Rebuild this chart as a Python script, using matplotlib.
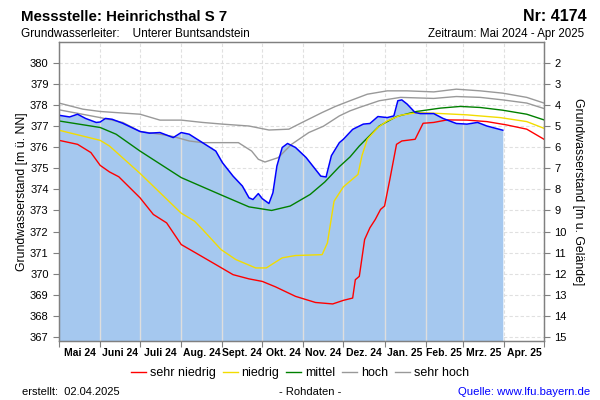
import numpy as np
import matplotlib
matplotlib.use("Agg")
import matplotlib.pyplot as plt
import matplotlib.dates as mdates
from matplotlib.lines import Line2D
from matplotlib.ticker import FixedLocator, FixedFormatter

plt.rcParams['font.family'] = ['Liberation Sans', 'DejaVu Sans']

# ---------------- data ----------------
month_labels = ["Mai 24", "Juni 24", "Juli 24", "Aug. 24", "Sept. 24", "Okt. 24",
                "Nov. 24", "Dez. 24", "Jan. 25", "Feb. 25", "Mrz. 25", "Apr. 25"]
left_ticks = list(range(367, 381))
right_ticks = list(range(2, 16))
ground_level = 382.0

meas_dates = ["2024-05-01", "2024-05-09", "2024-05-15", "2024-05-21", "2024-05-29", "2024-06-01",
              "2024-06-05", "2024-06-10", "2024-06-18", "2024-07-01", "2024-07-08", "2024-07-16",
              "2024-07-26", "2024-08-01", "2024-08-07", "2024-08-17", "2024-08-27", "2024-09-01",
              "2024-09-09", "2024-09-16", "2024-09-21", "2024-09-24", "2024-09-28", "2024-10-01",
              "2024-10-06", "2024-10-09", "2024-10-12", "2024-10-16", "2024-10-20", "2024-10-26",
              "2024-11-03", "2024-11-10", "2024-11-14", "2024-11-18", "2024-11-22", "2024-11-28",
              "2024-12-01", "2024-12-08", "2024-12-16", "2024-12-21", "2024-12-27", "2025-01-03",
              "2025-01-08", "2025-01-11", "2025-01-14", "2025-01-18", "2025-01-24", "2025-01-28",
              "2025-02-07", "2025-02-14", "2025-02-24", "2025-03-04", "2025-03-12", "2025-03-19",
              "2025-03-31"]
meas_values = [377.52, 377.44, 377.57, 377.37, 377.18, 377.20,
               377.37, 377.33, 377.14, 376.75, 376.67, 376.70,
               376.46, 376.70, 376.62, 376.22, 375.82, 375.27,
               374.63, 374.16, 373.60, 373.52, 373.80, 373.56,
               373.33, 373.84, 375.11, 375.99, 376.18, 375.99,
               375.51, 374.95, 374.63, 374.59, 375.60, 376.22,
               376.38, 376.85, 377.10, 377.13, 377.46, 377.41,
               377.49, 378.21, 378.25, 378.05, 377.65, 377.60,
               377.60, 377.37, 377.13, 377.10, 377.18, 377.01,
               376.81]

sn_dates = ["2024-05-01", "2024-05-15", "2024-05-25", "2024-06-01", "2024-06-08", "2024-06-15",
            "2024-07-01", "2024-07-11", "2024-07-21", "2024-08-01", "2024-08-12", "2024-08-27",
            "2024-09-09", "2024-09-21", "2024-10-01", "2024-10-11", "2024-10-26", "2024-11-10",
            "2024-11-23", "2024-12-01", "2024-12-08", "2024-12-10", "2024-12-13", "2024-12-17",
            "2024-12-21", "2024-12-25", "2024-12-29", "2025-01-01", "2025-01-05", "2025-01-10",
            "2025-01-14", "2025-01-24", "2025-01-30", "2025-02-07", "2025-02-17", "2025-03-04",
            "2025-03-19", "2025-04-03", "2025-04-18", "2025-05-01"]
sn_values = [376.33, 376.14, 375.75, 375.14, 374.83, 374.60,
             373.60, 372.81, 372.41, 371.38, 370.98, 370.43,
             369.95, 369.75, 369.63, 369.37, 368.92, 368.63,
             368.56, 368.73, 368.84, 369.71, 369.87, 371.62,
             372.18, 372.57, 373.05, 373.21, 374.48, 376.14,
             376.30, 376.38, 377.14, 377.18, 377.30, 377.29,
             377.22, 377.06, 376.86, 376.38]

n_dates = ["2024-05-01", "2024-06-01", "2024-06-08", "2024-07-01", "2024-08-01", "2024-08-11",
           "2024-08-17", "2024-08-31", "2024-09-11", "2024-09-26", "2024-10-04", "2024-10-16",
           "2024-10-26", "2024-11-15", "2024-11-19", "2024-11-24", "2024-12-01", "2024-12-12",
           "2024-12-15", "2024-12-19", "2024-12-27", "2025-01-03", "2025-01-13", "2025-01-26",
           "2025-02-13", "2025-03-04", "2025-03-29", "2025-04-18", "2025-05-01"]
n_values = [376.81, 376.33, 376.06, 374.76, 372.87, 372.49,
            372.10, 371.14, 370.67, 370.27, 370.27, 370.75,
            370.86, 370.90, 371.46, 373.44, 374.12, 374.71,
            375.60, 376.38, 376.94, 377.25, 377.52, 377.65,
            377.60, 377.54, 377.41, 377.22, 376.90]

m_dates = ["2024-05-01", "2024-06-01", "2024-06-13", "2024-07-01", "2024-08-01", "2024-09-01",
           "2024-09-21", "2024-10-08", "2024-10-22", "2024-11-06", "2024-11-17", "2024-11-28",
           "2024-12-06", "2024-12-13", "2024-12-28", "2025-01-10", "2025-01-25", "2025-02-12",
           "2025-02-27", "2025-03-14", "2025-03-31", "2025-04-18", "2025-05-01"]
m_values = [377.25, 376.94, 376.62, 375.82, 374.56, 373.71,
            373.17, 373.00, 373.21, 373.76, 374.35, 375.08,
            375.54, 376.06, 377.01, 377.46, 377.70, 377.86,
            377.94, 377.89, 377.76, 377.57, 377.30]

h_dates = ["2024-05-01", "2024-06-01", "2024-06-18", "2024-07-01", "2024-07-16", "2024-07-26",
           "2024-08-07", "2024-08-17", "2024-09-13", "2024-09-23", "2024-09-28", "2024-10-03",
           "2024-10-13", "2024-10-23", "2024-11-05", "2024-11-16", "2024-11-28", "2024-12-06",
           "2024-12-13", "2024-12-28", "2025-01-13", "2025-02-07", "2025-02-24", "2025-03-14",
           "2025-03-31", "2025-04-18", "2025-05-01"]
h_values = [377.78, 377.41, 377.18, 376.75, 376.62, 376.51,
            376.30, 376.22, 376.22, 375.82, 375.43, 375.30,
            375.51, 376.14, 376.70, 377.00, 377.49, 377.73,
            377.89, 378.21, 378.37, 378.32, 378.41, 378.37,
            378.25, 378.10, 377.84]

sh_dates = ["2024-05-01", "2024-05-19", "2024-06-01", "2024-07-01", "2024-07-16", "2024-08-01",
            "2024-08-17", "2024-09-01", "2024-09-21", "2024-10-06", "2024-10-21", "2024-10-31",
            "2024-11-15", "2024-11-25", "2024-12-06", "2024-12-19", "2025-01-03", "2025-01-18",
            "2025-02-07", "2025-02-24", "2025-03-14", "2025-03-31", "2025-04-18", "2025-05-01"]
sh_values = [378.10, 377.81, 377.70, 377.57, 377.29, 377.29,
             377.18, 377.10, 377.01, 376.82, 376.86, 377.18,
             377.65, 377.94, 378.21, 378.52, 378.68, 378.68,
             378.63, 378.76, 378.68, 378.57, 378.37, 378.10]

# ---------------- figure ----------------
def d(lst):
    return np.array(lst, dtype="datetime64[D]")

fig = plt.figure(figsize=(6, 4), dpi=100)
ax = fig.add_axes([0.0983, 0.1475, 0.8084, 0.7475])

x0 = np.datetime64("2024-05-01")
x1 = np.datetime64("2025-05-01")
ymin, ymax = 366.8, 381.0
ax.set_xlim(x0, x1)
ax.set_ylim(ymin, ymax)

grid_c = "#e0e0e0"
ax.set_axisbelow(True)
ax.grid(True, which="major", color=grid_c, linestyle=(0, (3, 2)), linewidth=0.8)

md = d(meas_dates)
mv = np.array(meas_values)
poly = ax.fill_between(md, ymin, mv, color="#a5c8ef", linewidth=0, zorder=1)

month_starts = np.arange(np.datetime64("2024-05"), np.datetime64("2025-06"),
                         dtype="datetime64[M]").astype("datetime64[D]")
clip_path = poly.get_paths()[0]
for ms in month_starts[1:-1]:
    ln = ax.axvline(ms, color="#dedede", linewidth=1.0, zorder=1.5)
    ln.set_clip_path(clip_path, transform=ax.transData)

gray = "#999999"
ax.plot(d(sh_dates), sh_values, color=gray, lw=1.0, zorder=3)
ax.plot(d(h_dates), h_values, color=gray, lw=1.0, zorder=3)
ax.plot(d(m_dates), m_values, color="#008000", lw=1.0, zorder=3)
ax.plot(d(n_dates), n_values, color="#f2dc00", lw=1.0, zorder=3)
ax.plot(d(sn_dates), sn_values, color="#ff0000", lw=1.0, zorder=3)
ax.plot(md, mv, color="#0000ff", lw=1.1, zorder=4)

# x axis
ax.xaxis.set_major_locator(FixedLocator(mdates.date2num(month_starts)))
ax.xaxis.set_major_formatter(FixedFormatter([""] * len(month_starts)))
mids = mdates.date2num(month_starts[:-1]) + np.diff(mdates.date2num(month_starts)) / 2
ax.xaxis.set_minor_locator(FixedLocator(mids))
ax.xaxis.set_minor_formatter(FixedFormatter(month_labels))
ax.tick_params(axis="x", which="major", length=4, color="#808080", width=0.8)
ax.tick_params(axis="x", which="minor", length=0, labelsize=7.5, pad=5)
for lbl in ax.xaxis.get_minorticklabels():
    lbl.set_fontweight("bold")

# y axis
ax.set_yticks(left_ticks)
ax.tick_params(axis="y", which="major", length=4, color="#808080", width=0.8, labelsize=8)
ax.set_ylabel("Grundwasserstand [m ü. NN]", fontsize=8.8)
ax.yaxis.set_label_coords(-0.064, 0.5)

for s in ax.spines.values():
    s.set_color("#808080")
    s.set_linewidth(0.9)

ax2 = ax.twinx()
ax2.set_ylim(ground_level - ymin, ground_level - ymax)
ax2.set_yticks(right_ticks)
ax2.tick_params(axis="y", length=4, color="#808080", width=0.8, labelsize=8)
ax2.set_ylabel("Grundwasserstand [m u. Gelände]", fontsize=8.8, rotation=270, labelpad=12)
for s in ax2.spines.values():
    s.set_color("#808080")
    s.set_linewidth(0.9)

# header
fig.text(0.035, 0.958, "Messstelle: Heinrichsthal S 7", fontsize=10.8, fontweight="bold",
         ha="left", va="center")
fig.text(0.978, 0.958, "Nr: 4174", fontsize=11.5, fontweight="bold", ha="right", va="center")
fig.text(0.035, 0.915, "Grundwasserleiter:    Unterer Buntsandstein", fontsize=8.5,
         ha="left", va="center")
fig.text(0.973, 0.915, "Zeitraum: Mai 2024 - Apr 2025", fontsize=8.3, ha="right", va="center")

# legend
handles = [Line2D([], [], color="#ff0000", lw=1),
           Line2D([], [], color="#f2dc00", lw=1),
           Line2D([], [], color="#008000", lw=1),
           Line2D([], [], color=gray, lw=1),
           Line2D([], [], color=gray, lw=1)]
labels = ["sehr niedrig", "niedrig", "mittel", "hoch", "sehr hoch"]
fig.legend(handles, labels, loc="center", bbox_to_anchor=(0.5, 0.0675), ncol=5,
           frameon=False, fontsize=9, handlelength=1.2, handletextpad=0.3,
           columnspacing=0.55, borderpad=0.2)

# footer
fig.text(0.037, 0.02, "erstellt:  02.04.2025", fontsize=8, ha="left", va="center")
fig.text(0.517, 0.02, "- Rohdaten -", fontsize=8, ha="center", va="center")
fig.text(0.983, 0.02, "Quelle: www.lfu.bayern.de", fontsize=8.2, ha="right", va="center",
         color="#0000ff")

fig.savefig("out.png", dpi=100)
